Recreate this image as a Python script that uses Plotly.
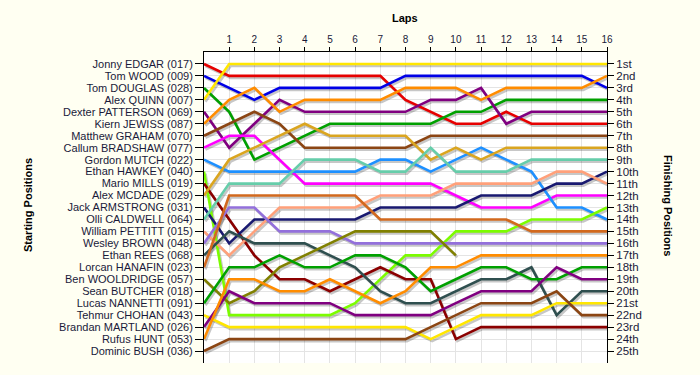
import plotly.graph_objects as go

# ---- data -------------------------------------------------------------
laps = list(range(0, 17))
lap_ticks = list(range(1, 17))
lap_labels = [str(i) for i in lap_ticks]

drivers = [
    "Jonny EDGAR (017)", "Tom WOOD (009)", "Tom DOUGLAS (028)", "Alex QUINN (007)",
    "Dexter PATTERSON (069)", "Kiern JEWISS (087)", "Matthew GRAHAM (070)",
    "Callum BRADSHAW (077)", "Gordon MUTCH (022)", "Ethan HAWKEY (040)",
    "Mario MILLS (019)", "Alex MCDADE (029)", "Jack ARMSTRONG (031)",
    "Olli CALDWELL (064)", "William PETTITT (015)", "Wesley BROWN (048)",
    "Ethan REES (068)", "Lorcan HANAFIN (023)", "Ben WOOLDRIDGE (057)",
    "Sean BUTCHER (018)", "Lucas NANNETTI (091)", "Tehmur CHOHAN (043)",
    "Brandan MARTLAND (026)", "Rufus HUNT (053)", "Dominic BUSH (036)",
]

finish_labels = [
    "1st", "2nd", "3rd", "4th", "5th", "6th", "7th", "8th", "9th", "10th",
    "11th", "12th", "13th", "14th", "15th", "16th", "17th", "18th", "19th",
    "20th", "21st", "22nd", "23rd", "24th", "25th",
]

line_colors = [
    "#e60000", "#0000e6", "#00a000", "#ffe600", "#800080", "#ff8c00", "#8b4513",
    "#ff00ff", "#1e90ff", "#7cfc00", "#8b0000", "#daa520", "#191970",
    "#66cdaa", "#ffa07a", "#9370db", "#2f4f4f", "#d2691e", "#808000",
    "#000000", "#00a000", "#ffe600", "#800080", "#ff8c00", "#8b4513",
]

# position of each driver at the end of each lap (lap 0 = grid)
pos_edgar = [1, 2, 2, 2, 2, 2, 2, 2, 4, 5, 6, 6, 5, 6, 6, 6, 6]
pos_wood = [2, 3, 4, 3, 3, 3, 3, 3, 2, 2, 2, 2, 2, 2, 2, 2, 3]
pos_douglas = [3, 5, 9, 8, 7, 6, 6, 6, 6, 6, 5, 5, 4, 4, 4, 4, 4]
pos_quinn = [4, 1, 1, 1, 1, 1, 1, 1, 1, 1, 1, 1, 1, 1, 1, 1, 1]
pos_patterson = [5, 8, 6, 4, 5, 5, 5, 5, 5, 4, 4, 3, 6, 5, 5, 5, 5]
pos_jewiss = [6, 4, 3, 5, 4, 4, 4, 4, 3, 3, 3, 4, 3, 3, 3, 3, 2]
pos_graham = [7, 6, 5, 6, 8, 8, 8, 8, 8, 7, 7, 7, 7, 7, 7, 7, 7]
pos_bradshaw = [8, 7, 7, 9, 11, 11, 11, 11, 11, 11, 12, 13, 13, 13, 12, 12, 12]
pos_mutch = [9, 10, 10, 10, 10, 10, 10, 9, 9, 10, 9, 8, 9, 10, 13, 13, 14]
pos_hawkey = [10, 22, 22, 22, 22, 22, 21, 19, 17, 17, 15, 15, 15, 14, 14, 14, 13]
pos_mills = [11, 14, 17, 19, 19, 20, 19, 18, 19, 19, 24, 23, 23, 23, 23, 23, 23]
pos_mcdade = [12, 9, 8, 7, 6, 7, 7, 7, 7, 9, 8, 9, 8, 8, 8, 8, 8]
pos_armstrong = [13, 16, 14, 14, 14, 14, 14, 13, 13, 13, 13, 12, 12, 12, 11, 11, 10]
pos_caldwell = [14, 11, 11, 11, 9, 9, 9, 10, 10, 8, 10, 10, 10, 9, 9, 9, 9]
pos_pettitt = [15, 17, 15, 13, 13, 13, 13, 12, 12, 12, 11, 11, 11, 11, 10, 10, 11]
pos_brown = [16, 13, 13, 15, 15, 15, 16, 16, 16, 16, 16, 16, 16, 16, 16, 16, 16]
pos_rees = [17, 15, 16, 16, 16, 17, 18, 20, 21, 21, 20, 19, 19, 18, 22, 20, 20]
pos_hanafin = [18, 12, 12, 12, 12, 12, 12, 14, 14, 14, 14, 14, 14, 15, 15, 15, 15]
pos_wooldridge = [19, 21, 20, 18, 17, 16, 15, 15, 15, 15, 17]
pos_butcher = []
pos_nannetti = [21, 18, 18, 17, 18, 18, 17, 17, 18, 20, 19, 18, 18, 19, 19, 18, 18]
pos_chohan = [22, 23, 23, 23, 23, 23, 23, 23, 23, 24, 23, 22, 22, 22, 21, 21, 21]
pos_martland = [23, 20, 21, 21, 21, 21, 22, 22, 22, 22, 21, 20, 20, 20, 18, 19, 19]
pos_hunt = [24, 19, 19, 20, 20, 19, 20, 21, 20, 18, 18, 17, 17, 17, 17, 17, 17]
pos_bush = [25, 24, 24, 24, 24, 24, 24, 24, 24, 23, 22, 21, 21, 21, 20, 22, 22]

positions = [
    pos_edgar, pos_wood, pos_douglas, pos_quinn, pos_patterson, pos_jewiss,
    pos_graham, pos_bradshaw, pos_mutch, pos_hawkey, pos_mills, pos_mcdade,
    pos_armstrong, pos_caldwell, pos_pettitt, pos_brown, pos_rees, pos_hanafin,
    pos_wooldridge, pos_butcher, pos_nannetti, pos_chohan, pos_martland,
    pos_hunt, pos_bush,
]

# ---- layout constants -------------------------------------------------
W, H = 700, 375
ML, MR, MT, MB = 204, 93, 52, 12
PW, PH = W - ML - MR, H - MT - MB
NPOS = len(drivers)
XMAX = 16
YMAX = NPOS + 1

# shadow offset (pixels -> data units)
sdx = 1.5 * XMAX / PW
sdy = 2.0 * YMAX / PH

text_col = "#1a1a3a"
font_family = "Liberation Sans, Arial, sans-serif"

fig = go.Figure()

# shadows
for pos in positions:
    if not pos:
        continue
    fig.add_trace(go.Scatter(
        x=[v + sdx for v in laps[:len(pos)]], y=[v + sdy for v in pos],
        mode="lines", line=dict(color="rgba(0,0,0,0.22)", width=2.6),
        hoverinfo="skip", showlegend=False,
    ))

# lines
for name, pos, col in zip(drivers, positions, line_colors):
    if not pos:
        continue
    fig.add_trace(go.Scatter(
        x=laps[:len(pos)], y=pos, name=name,
        mode="lines", line=dict(color=col, width=2.6),
        hoverinfo="skip", showlegend=False,
    ))

# dummy trace for right axis
fig.add_trace(go.Scatter(x=[None], y=[None], yaxis="y2", showlegend=False,
                         hoverinfo="skip"))

fig.update_layout(
    width=W, height=H,
    margin=dict(l=ML, r=MR, t=MT, b=MB, pad=0),
    paper_bgcolor="#fffff2",
    plot_bgcolor="#ffffff",
    font=dict(family=font_family, size=11, color=text_col),
    showlegend=False,
    xaxis=dict(
        range=[0, XMAX], side="top",
        tickmode="array", tickvals=lap_ticks, ticktext=lap_labels,
        tickfont=dict(size=10, color=text_col),
        ticks="outside", ticklen=4, tickcolor="#000000",
        showline=True, linecolor="#000000", linewidth=1,
        showgrid=True, gridcolor="#e4e4e4", gridwidth=1,
        zeroline=False, fixedrange=True,
    ),
    yaxis=dict(
        range=[YMAX, 0],
        tickmode="array", tickvals=list(range(1, NPOS + 1)), ticktext=drivers,
        tickfont=dict(size=11, color=text_col),
        ticks="outside", ticklen=8, tickcolor="#000000",
        showline=True, linecolor="#000000", linewidth=1,
        showgrid=True, gridcolor="#e4e4e4", gridwidth=1,
        zeroline=False, fixedrange=True,
    ),
    yaxis2=dict(
        range=[YMAX, 0], overlaying="y", side="right",
        tickmode="array", tickvals=list(range(1, NPOS + 1)), ticktext=finish_labels,
        tickfont=dict(size=11.5, color=text_col),
        ticks="outside", ticklen=6, tickcolor="#000000",
        showline=True, linecolor="#000000", linewidth=1,
        showgrid=False, zeroline=False, fixedrange=True,
    ),
    annotations=[
        dict(text="<b>Laps</b>", xref="paper", yref="paper",
             x=(405 - ML) / PW, y=(H - MB - 18) / PH, showarrow=False,
             font=dict(size=11, color="#000000"), xanchor="center", yanchor="middle"),
        dict(text="<b>Starting Positions</b>", xref="paper", yref="paper",
             x=(28 - ML) / PW, y=(H - MB - 205) / PH, showarrow=False, textangle=-90,
             font=dict(size=11, color="#000000"), xanchor="center", yanchor="middle"),
        dict(text="<b>Finishing Positions</b>", xref="paper", yref="paper",
             x=(668 - ML) / PW, y=(H - MB - 205) / PH, showarrow=False, textangle=90,
             font=dict(size=11, color="#000000"), xanchor="center", yanchor="middle"),
    ],
)

fig.write_html(
    "out.html",
    config={"displayModeBar": False},
    post_script="document.body.style.margin='0';document.body.style.overflow='hidden';",
)
